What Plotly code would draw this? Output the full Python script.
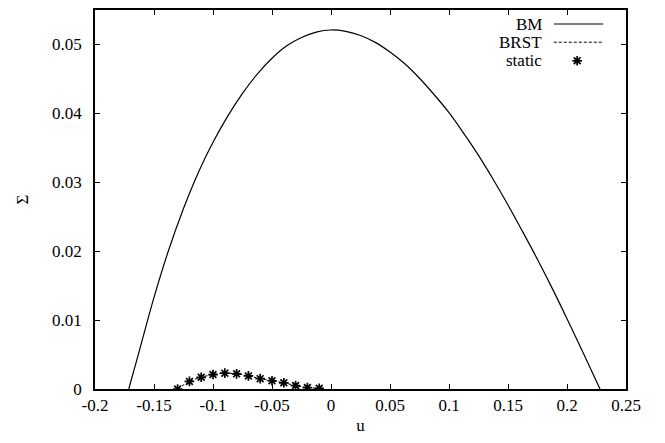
import plotly.graph_objs as go

# BM curve
bm_u = [-0.1714, -0.1625, -0.15, -0.1375, -0.125, -0.1125, -0.1, -0.0875, -0.075,
        -0.0625, -0.05, -0.0375, -0.025, -0.0125, 0.0, 0.0125, 0.025, 0.0375, 0.05,
        0.0625, 0.075, 0.0875, 0.1, 0.1125, 0.125, 0.1375, 0.15, 0.1625, 0.175,
        0.1875, 0.2, 0.2125, 0.225, 0.228]
bm_sigma = [0.0, 0.0055, 0.0133, 0.0202, 0.0262, 0.0314, 0.0358, 0.0396, 0.0429,
            0.0457, 0.0480, 0.0498, 0.0510, 0.0518, 0.0521, 0.0519, 0.0513, 0.0503, 0.0489,
            0.0472, 0.0451, 0.0427, 0.0401, 0.0371, 0.0339, 0.0304, 0.0267, 0.0228, 0.0188,
            0.0146, 0.0102, 0.0057, 0.0011, 0.0]

# BRST and static points
brst_u = [-0.13, -0.12, -0.11, -0.10, -0.09, -0.08, -0.07, -0.06, -0.05, -0.04,
          -0.03, -0.02, -0.01]
brst_sigma = [0.0, 0.0011, 0.0017, 0.0021, 0.0023, 0.0022, 0.0019, 0.0015, 0.0012,
              0.0009, 0.0005, 0.0002, 0.0001]
static_u = brst_u
static_sigma = brst_sigma

x_ticks = [-0.2, -0.15, -0.1, -0.05, 0, 0.05, 0.1, 0.15, 0.2, 0.25]
x_labels = ['-0.2', '-0.15', '-0.1', '-0.05', '0', '0.05', '0.1', '0.15', '0.2', '0.25']
y_ticks = [0, 0.01, 0.02, 0.03, 0.04, 0.05]
y_labels = ['0', '0.01', '0.02', '0.03', '0.04', '0.05']

font = 'Liberation Serif'
star = dict(symbol='asterisk-open', size=8, color='black',
            line=dict(color='black', width=1.7))

bm = go.Scatter(x=bm_u, y=bm_sigma, mode='lines', line_shape='spline',
                line=dict(color='black', width=1.2), showlegend=False)
brst = go.Scatter(x=brst_u, y=brst_sigma, mode='lines', line_shape='spline',
                  line=dict(color='black', width=1, dash='3px,2px'), showlegend=False)
static = go.Scatter(x=static_u, y=static_sigma, mode='markers', marker=star,
                    showlegend=False)
# legend sample for "static", on a hidden overlay axis
static_key = go.Scatter(x=[0.908], y=[0.866], mode='markers', xaxis='x2', yaxis='y2',
                        marker=star, showlegend=False, hoverinfo='skip')

fig = go.Figure(data=[bm, brst, static, static_key])

axis_common = dict(showline=True, linecolor='black', linewidth=1.5, mirror='allticks',
                   ticks='inside', ticklen=5, tickcolor='black', showgrid=False,
                   zeroline=False, automargin=False,
                   tickfont=dict(family=font, size=17, color='black'))

# page body has an 8px margin, so the figure is 16px smaller than the window
fig.update_layout(
    width=649, height=427,
    margin=dict(l=87, r=31, t=2, b=46),
    font=dict(family=font),
    paper_bgcolor='white', plot_bgcolor='white',
    xaxis=dict(range=[-0.2, 0.25], tickvals=x_ticks, ticktext=x_labels,
               title=dict(text='u', font=dict(family=font, size=17, color='black'), standoff=14),
               **axis_common),
    yaxis=dict(range=[0, 0.055], tickvals=y_ticks, ticktext=y_labels, ticklabelstandoff=8,
               title=dict(text='Σ', font=dict(family=font, size=17, color='black'), standoff=19),
               **axis_common),
    xaxis2=dict(overlaying='x', range=[0, 1], visible=False),
    yaxis2=dict(overlaying='y', range=[0, 1], visible=False),
    shapes=[
        dict(type='line', xref='paper', yref='paper', x0=0.864, x1=0.957, y0=0.963, y1=0.963,
             line=dict(color='black', width=1.2)),
        dict(type='line', xref='paper', yref='paper', x0=0.864, x1=0.957, y0=0.915, y1=0.915,
             line=dict(color='black', width=1, dash='3px,2px')),
    ],
    annotations=[
        dict(text=t, xref='paper', yref='paper', x=0.846, y=y, xanchor='right', yanchor='middle',
             showarrow=False, font=dict(family=font, size=17, color='black'))
        for t, y in [('BM', 0.963), ('BRST', 0.915), ('static', 0.866)]
    ],
)

fig.write_html("out.html")
